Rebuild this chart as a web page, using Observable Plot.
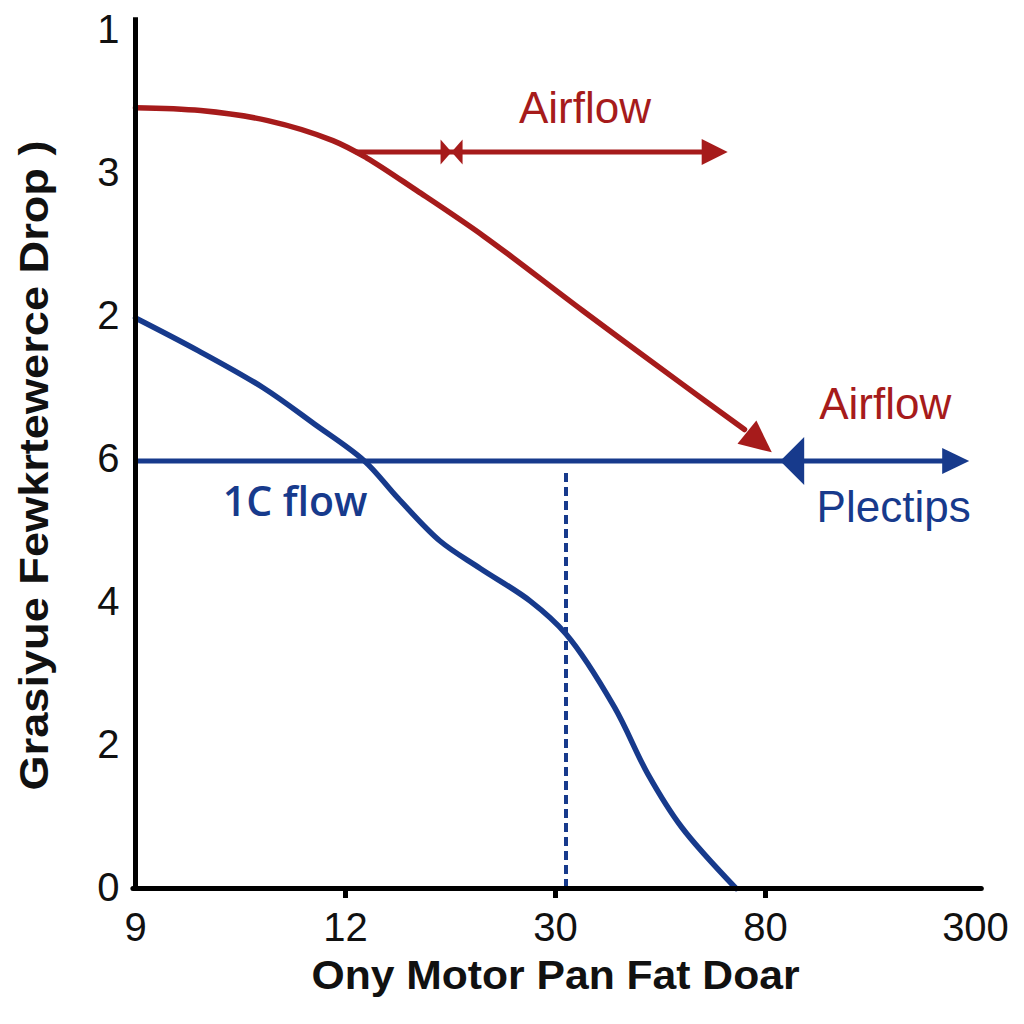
<!DOCTYPE html>
<html>
<head>
<meta charset="utf-8">
<script src="https://cdn.jsdelivr.net/npm/d3@7"></script>
<script src="https://cdn.jsdelivr.net/npm/@observablehq/plot@0.6"></script>
<style>
  html, body { margin: 0; padding: 0; background: #fff; }
  svg { display: block; }
</style>
</head>
<body>
<script>
// ---- data ----
const xTickLabels = ["9", "12", "30", "80", "300"];
const yTickLabels = ["0", "2", "4", "6", "2", "3", "1"];
const xTitle = "Ony Motor Pan Fat Doar";
const yTitle = "Grasiyue Fewkrtewerce Drop )";

const redX = [0, 0.31, 0.63, 0.94, 1.1, 1.34, 1.66, 2.13, 2.61, 2.9, 3.03];
const redY = [5.46, 5.44, 5.37, 5.23, 5.11, 4.88, 4.56, 4.04, 3.52, 3.21, 3.05];

const blueX = [0, 0.3, 0.61, 0.85, 1.09, 1.25, 1.45, 1.64, 1.88, 2.05, 2.28, 2.44, 2.6, 2.86];
const blueY = [3.99, 3.76, 3.5, 3.25, 2.99, 2.73, 2.43, 2.24, 2.01, 1.78, 1.27, 0.8, 0.43, 0];

const redArrow = {x1: 1.05, x2: 2.82, y: 5.15, mark: 1.505};
const blueArrow = {x1: 0, x2: 3.97, y: 2.99, mark: 3.07};
const dashX = 2.05, dashTop = 2.92;

const labels = [
  {text: "Airflow", x: 2.14, y: 5.45, color: "red"},
  {text: "Airflow", x: 3.57, y: 3.38, color: "red"},
  {text: "Plectips", x: 3.61, y: 2.66, color: "blue"}
];
const flowLabel = {text: "1C flow", x: 0.76, y: 2.7};

// ---- styling ----
const RED = "#a61b1b";
const BLUE = "#173a8c";
const colorOf = c => c === "red" ? RED : BLUE;

function head(len, halfW) {
  return { draw(ctx) { ctx.moveTo(0, 0); ctx.lineTo(-len, -halfW); ctx.lineTo(-len, halfW); ctx.closePath(); } };
}

const redLine = redX.map((x, i) => ({x, y: redY[i]}));
const blueLine = blueX.map((x, i) => ({x, y: blueY[i]}));
const redEnd = redLine[redLine.length - 1];

const chart = Plot.plot({
  width: 1024,
  height: 1024,
  marginLeft: 135,
  marginRight: 49,
  marginTop: 30,
  marginBottom: 136,
  style: {background: "#fff", fontFamily: "'Liberation Sans', Arial, sans-serif", overflow: "visible"},
  x: {domain: [0, 4]},
  y: {domain: [0, 6]},
  marks: [
    Plot.axisY(d3.range(7), {tickSize: 0, tickPadding: 16, fontSize: 40, label: null, tickFormat: d => yTickLabels[d], fill: "#111"}),
    Plot.axisX(d3.range(5), {tickSize: 0, tickPadding: 24, fontSize: 40, label: null, tickFormat: d => xTickLabels[d], fill: "#111"}),
    // dashed vertical
    Plot.ruleX([dashX], {y1: 0, y2: dashTop, stroke: BLUE, strokeWidth: 4, strokeDasharray: "9,5"}),
    // blue curve
    Plot.line(blueLine, {x: "x", y: "y", stroke: BLUE, strokeWidth: 5.5, curve: "catmull-rom"}),
    // blue horizontal arrow
    Plot.ruleY([blueArrow.y], {x1: blueArrow.x1, x2: blueArrow.x2 - 0.1, stroke: BLUE, strokeWidth: 5}),
    Plot.dot([blueArrow], {x: "x2", y: "y", symbol: head(27, 13), fill: BLUE, stroke: "none", r: 10}),
    Plot.dot([blueArrow], {x: "mark", y: "y", symbol: head(24, 24), rotate: 180, fill: BLUE, stroke: "none", r: 10}),
    // red curve
    Plot.line(redLine.slice(0, -1), {x: "x", y: "y", stroke: RED, strokeWidth: 5.5, curve: "catmull-rom"}),
    Plot.dot([redEnd], {x: "x", y: "y", symbol: head(32, 15), rotate: 39, fill: RED, stroke: "none", r: 10}),
    // red horizontal arrow
    Plot.ruleY([redArrow.y], {x1: redArrow.x1, x2: redArrow.x2 - 0.08, stroke: RED, strokeWidth: 5}),
    Plot.dot([redArrow], {x: "x2", y: "y", symbol: head(26, 13), fill: RED, stroke: "none", r: 10}),
    Plot.dot([redArrow], {x: "mark", y: "y", symbol: head(11, 12.5), fill: RED, stroke: "none", r: 10}),
    Plot.dot([redArrow], {x: "mark", y: "y", symbol: head(11, 12.5), rotate: 180, fill: RED, stroke: "none", r: 10}),
    // axes lines
    Plot.ruleX([0], {y1: 0, y2: 6.09, stroke: "#000", strokeWidth: 5}),
    Plot.ruleY([0], {x1: -0.01, x2: 4.03, stroke: "#000", strokeWidth: 5, strokeLinecap: "round"}),
    Plot.ruleX([1, 2, 3], {y1: 0, y2: -0.07, stroke: "#000", strokeWidth: 5}),
    // labels
    Plot.text(labels, {x: "x", y: "y", text: "text", fill: d => colorOf(d.color), fontSize: 44, fontFamily: "'Liberation Sans', Arial, sans-serif"}),
    Plot.text([flowLabel], {x: "x", y: "y", text: "text", fill: BLUE, fontSize: 41, fontWeight: 600, fontFamily: "'Open Sans', 'Liberation Sans', sans-serif"}),
    // axis titles
    Plot.text([xTitle], {frameAnchor: "bottom", dy: 100, fontSize: 40, fontWeight: "bold", fill: "#111", fontFamily: "'Liberation Sans', sans-serif"}),
    Plot.text([yTitle], {frameAnchor: "left", textAnchor: "middle", dx: -100, dy: 6, rotate: -90, fontSize: 40, fontWeight: "bold", fill: "#111", fontFamily: "'Liberation Sans', sans-serif"})
  ]
});
// fit titles to the reference widths (condensed look)
d3.select(chart).selectAll("text")
  .filter(function() { return this.textContent === yTitle; })
  .attr("textLength", 650).attr("lengthAdjust", "spacingAndGlyphs");
d3.select(chart).selectAll("text")
  .filter(function() { return this.textContent === xTitle; })
  .attr("textLength", 488).attr("lengthAdjust", "spacingAndGlyphs");
document.body.appendChild(chart);
</script>
</body>
</html>
